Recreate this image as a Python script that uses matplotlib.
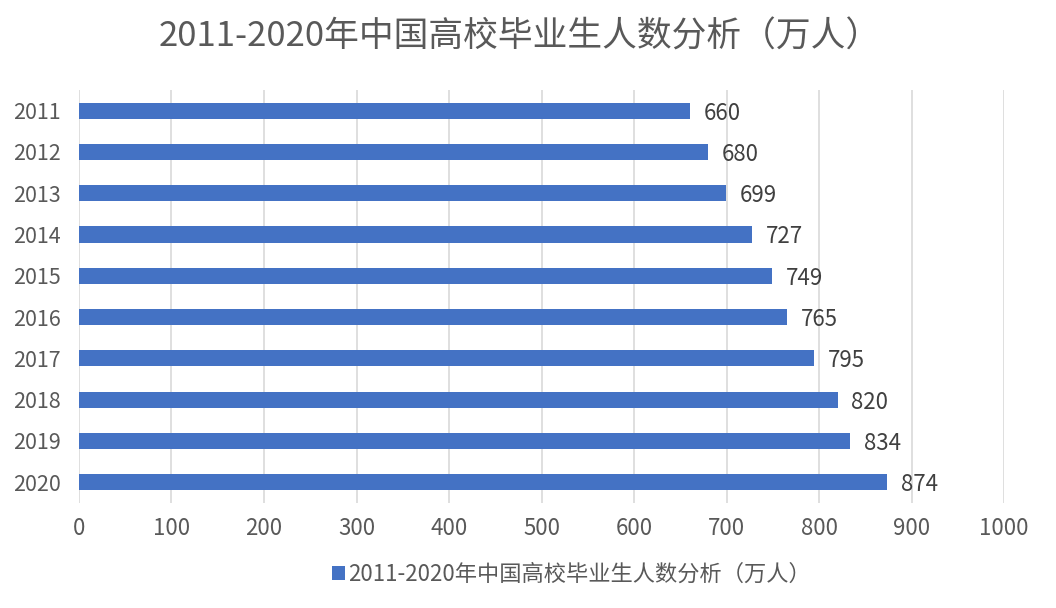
import matplotlib
matplotlib.use("Agg")
import matplotlib.pyplot as plt

plt.rcParams["font.family"] = ["Noto Sans CJK SC", "DejaVu Sans"]

TITLE = "2011-2020年中国高校毕业生人数分析（万人）"
years = ["2011", "2012", "2013", "2014", "2015", "2016", "2017", "2018", "2019", "2020"]
grads = [660, 680, 699, 727, 749, 765, 795, 820, 834, 874]
xticks = [0, 100, 200, 300, 400, 500, 600, 700, 800, 900, 1000]

BLUE = "#4472C4"
TXT = "#595959"

fig = plt.figure(figsize=(10.56, 6.08), dpi=100)
ax = fig.add_axes([0.0748, 0.173, 0.876, 0.679])

ypos = list(range(len(years)))
bars = ax.barh(ypos, grads, height=0.39, color=BLUE, label=TITLE, zorder=3)
for y, v in zip(ypos, grads):
    ax.text(v + 15, y, str(v), va="center_baseline", ha="left", fontsize=16, color="#404040")

ax.set_yticks(ypos)
ax.set_yticklabels(years)
ax.set_ylim(len(years) - 0.5, -0.5)
ax.set_xlim(0, 1000)
ax.set_xticks(xticks)
ax.tick_params(axis="both", length=0, labelsize=16, labelcolor=TXT)
ax.tick_params(axis="y", labelsize=15.5, pad=13)
ax.tick_params(axis="x", pad=10)
ax.grid(axis="x", color="#d9d9d9", lw=1.2, zorder=0)
for s in ax.spines.values():
    s.set_visible(False)

fig.suptitle(TITLE, fontsize=25, color=TXT, x=0.492, y=0.968)
fig.legend(handles=[bars], labels=[TITLE], loc="center", bbox_to_anchor=(0.541, 0.055),
           frameon=False, fontsize=16, handlelength=0.6, handleheight=0.6,
           handletextpad=0.15, labelcolor=TXT)

fig.savefig("out.png", dpi=100, facecolor="white")
